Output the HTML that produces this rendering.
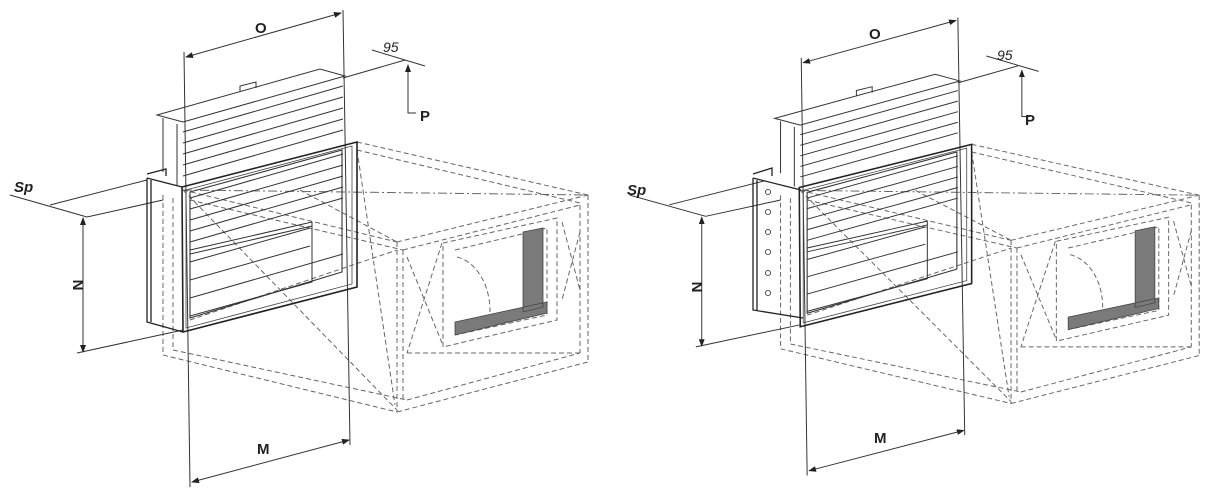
<!DOCTYPE html>
<html><head><meta charset="utf-8"><style>
html,body{margin:0;padding:0;background:#fff;}
svg{display:block}
text{font-family:"Liberation Sans",sans-serif;fill:#222}
</style></head><body>
<svg width="1205" height="492" viewBox="0 0 1205 492" xmlns="http://www.w3.org/2000/svg">
<defs>
<marker id="a" markerWidth="8" markerHeight="6" refX="7" refY="3" orient="auto-start-reverse" markerUnits="userSpaceOnUse"><path d="M0,0 L8,3 L0,6 Z" fill="#222"/></marker>
<g id="d">
 <g fill="none" stroke="#666" stroke-width="1" stroke-dasharray="5 3">
  <path d="M163,195 L163,355 L397,412 M173,198 L173,350 L407,400"/>
  <path d="M357,142 L588,195 M357,150 L580,203"/>
  <path d="M183,190 L588,195" stroke-dasharray="9 3 2 3"/>
  <path d="M183,190 L397,242 M190,200 L403,250"/>
  <path d="M397,242 L588,195 M403,250 L580,205"/>
  <path d="M397,242 L397,412 M403,250 L403,400 M588,195 L588,362 M580,205 L580,353"/>
  <path d="M397,412 L588,362 M407,400 L580,353 M407,353 L580,353"/>
  <path d="M407,257 L442,343 M442,243 L407,353 M562,222 L580,290 M580,232 L562,300"/>
  <path d="M183,190 L397,410 M357,150 L395,405 M190,320 L397,250 M300,190 L397,242"/>
  <path d="M443,243 L557,218 L557,320 L443,347 Z M455,250 L547,228 L547,315 L455,335"/>
  <path d="M457,257 A40 55 0 0 1 490,312"/>
 </g>
 <path d="M523,232 L543,228 L543,307 L523,312 Z M455,322 L547,302 L547,313 L455,335 Z" fill="#7a7a7a" stroke="#444" stroke-width="0.8"/>
 <g fill="none" stroke="#333" stroke-width="1">
  <path d="M184,52 L190,487 M343,10 L350,445"/>
  <path d="M186,57 L341,13" marker-start="url(#a)" marker-end="url(#a)"/>
  <path d="M192,482 L349,440" marker-start="url(#a)" marker-end="url(#a)"/>
  <path d="M372,50 L425,66 M343,78 L405,60"/>
  <path d="M408,65 L408,113 L416,113" marker-start="url(#a)"/>
  <path d="M157,115 L183,122 L345,76 L320,69 Z M240,92 L240,86 L256,82 L256,88"/>
  <path d="M163,118 L163,172 M177,124 L177,186"/>
  <path d="M183,132 L343,86 M183,143 L343,97 M183,154 L343,108 M183,165 L343,119 M183,176 L343,130 M190,198 L343,154 M190,209 L343,165 M190,220 L343,176 M190,231 L343,187 M190,242 L343,198 M190,262 L310,228 M190,280 L310,246 M190,298 L343,254"/>
  <path d="M190,250 L312,222 M190,254 L312,226 M312,222 L312,282 L190,316"/>
 </g>
 <path d="M182,187 L357,142 L357,287 L183,332 Z" fill="none" stroke="#222" stroke-width="1.6"/>
 <path d="M186,190 L352,146 L352,284 L186,328 Z" fill="none" stroke="#444" stroke-width="0.8"/>
 <path d="M190,192 L342,150 L342,272 L190,318 Z" fill="none" stroke="#333" stroke-width="1.1"/>
 <path d="M10,195 L87,217 M50,205 L147,180 M87,217 L163,200 M77,353 L183,330" fill="none" stroke="#333" stroke-width="1"/>
 <path d="M83,218 L83,352" fill="none" stroke="#333" stroke-width="1" marker-start="url(#a)" marker-end="url(#a)"/>
</g>
</defs>
<use href="#d"/>
<g fill="none" stroke="#222" stroke-width="1.3">
 <path d="M147,178 L147,322 L183,332 M151,180 L151,322 M147,178 L182,187 M147,174 L166,169 L166,176"/>
</g>
<g transform="translate(620,8) scale(0.985,0.96)"><use href="#d"/></g>
<g fill="none" stroke="#222" stroke-width="1.3">
 <path d="M753,178 L753,310 L803,318 M757,180 L757,310 M753,178 L801,190 M753,174 L772,168 L772,176"/>
</g>
<g fill="none" stroke="#444" stroke-width="0.9">
 <circle cx="768" cy="192" r="2.6"/><circle cx="768" cy="212" r="2.6"/><circle cx="768" cy="232" r="2.6"/>
 <circle cx="768" cy="252" r="2.6"/><circle cx="768" cy="273" r="2.6"/><circle cx="768" cy="293" r="2.6"/>
</g>
<g font-weight="bold" font-size="15">
 <text x="255" y="33">O</text><text x="257" y="454">M</text>
 <text x="14" y="192" font-style="italic">Sp</text><text x="420" y="121">P</text>
 <text transform="translate(73,285) rotate(90)" text-anchor="middle">N</text>
 <text x="869" y="39">O</text><text x="874" y="443">M</text>
 <text x="627" y="195" font-style="italic">Sp</text><text x="1025" y="125">P</text>
 <text transform="translate(692,287) rotate(90)" text-anchor="middle">N</text>
</g>
<g font-size="14" font-style="italic">
 <text x="383" y="52">95</text><text x="997" y="60">95</text>
</g>
</svg>
</body></html>
